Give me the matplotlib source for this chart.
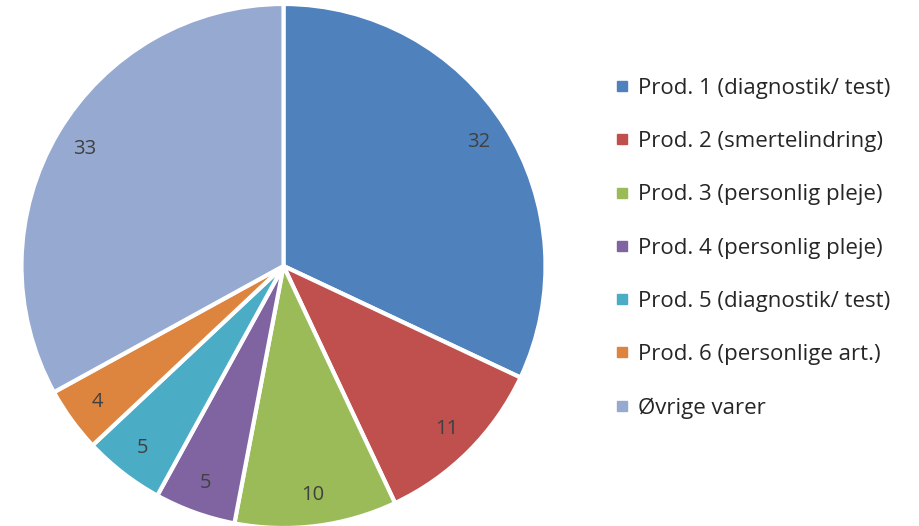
import matplotlib
matplotlib.use("Agg")
import matplotlib.pyplot as plt
from matplotlib.lines import Line2D

categories = ["Prod. 1 (diagnostik/ test)", "Prod. 2 (smertelindring)",
              "Prod. 3 (personlig pleje)", "Prod. 4 (personlig pleje)",
              "Prod. 5 (diagnostik/ test)", "Prod. 6 (personlige art.)",
              "Øvrige varer"]
values = [32, 11, 10, 5, 5, 4, 33]
colors = ["#4f81bd", "#c0504d", "#9bbb59", "#8064a2", "#4bacc6", "#dd843e", "#95a9d1"]

plt.rcParams['font.family'] = ['Open Sans', 'DejaVu Sans']
W, H = 919, 526
fig = plt.figure(figsize=(W / 100, H / 100), dpi=100)
cx, cy, r = 283.5, 266, 262
ax = fig.add_axes([(cx - r) / W, (H - cy - r) / H, 2 * r / W, 2 * r / H])

wedges, texts = ax.pie(values, colors=colors, startangle=90, counterclock=False,
                       labels=[str(v) for v in values], labeldistance=0.88,
                       wedgeprops=dict(edgecolor="white", linewidth=3),
                       textprops=dict(color="#404040", fontsize=14.5))
for t in texts:
    t.set_horizontalalignment("center")
    t.set_verticalalignment("center")
ax.set_aspect("equal")
ax.set_xlim(-1, 1)
ax.set_ylim(-1, 1)
ax.axis("off")

handles = [Line2D([], [], marker="s", linestyle="none", markersize=7.5,
                  markerfacecolor=c, markeredgecolor=c) for c in colors]
fig.legend(handles, categories, loc="upper left", bbox_to_anchor=(615 / W, 1 - 78 / H),
           frameon=False, fontsize=16, labelcolor="#262626", labelspacing=1.45,
           handlelength=0.6, handletextpad=0.45, borderaxespad=0, borderpad=0)

fig.savefig("out.png", dpi=100)
